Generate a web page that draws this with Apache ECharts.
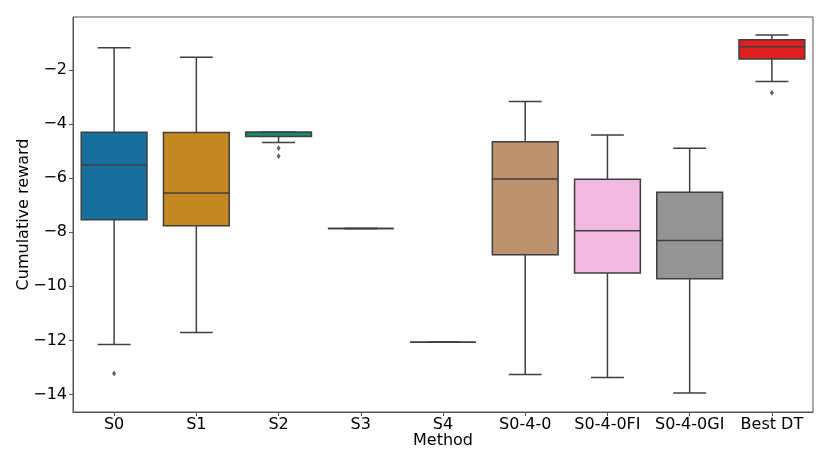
<!DOCTYPE html>
<html>
<head>
<meta charset="utf-8">
<script src="https://cdn.jsdelivr.net/npm/echarts@6/dist/echarts.min.js"></script>
<style>html,body{margin:0;padding:0;background:#fff}#c{width:830px;height:467px}</style>
</head>
<body>
<div id="c"></div>
<script>
const categories = ['S0','S1','S2','S3','S4','S0-4-0','S0-4-0FI','S0-4-0GI','Best DT'];
// [lower whisker, Q1, median, Q3, upper whisker]
const boxStats = [
  [-12.15, -7.54, -5.51, -4.30, -1.18],
  [-11.71, -7.76, -6.55, -4.31, -1.53],
  [-4.68, -4.46, -4.30, -4.30, -4.30],
  [-7.86, -7.86, -7.86, -7.86, -7.86],
  [-12.07, -12.07, -12.07, -12.07, -12.07],
  [-13.26, -8.83, -6.03, -4.65, -3.17],
  [-13.37, -9.51, -7.95, -6.04, -4.40],
  [-13.95, -9.72, -8.31, -6.52, -4.89],
  [-2.43, -1.59, -1.14, -0.88, -0.71]
];
const outliers = [[0, -13.23], [2, -4.89], [2, -5.19], [8, -2.84]];
const boxColors = ['#176d9c','#c38820','#158b6a','#c0581b','#bb78ae','#bd926e','#f1b8e0','#949494','#df2020'];
const yTicks = [-14, -12, -10, -8, -6, -4, -2];

const lineColor = '#3f3f3f';
const chart = echarts.init(document.getElementById('c'));
const font = 'DejaVu Sans';

chart.setOption({
  animation: false,
  grid: {left: 73, right: 17, top: 17, bottom: 55, show: true, borderColor: '#555', borderWidth: 1, backgroundColor: 'transparent'},
  xAxis: {
    type: 'category', data: categories, boundaryGap: true,
    name: 'Method', nameLocation: 'middle', nameGap: 21, nameMoveOverlap: false,
    nameTextStyle: {fontFamily: font, fontSize: 16, color: '#000'},
    axisLine: {show: true, lineStyle: {color: '#555', width: 1}},
    axisTick: {show: true, alignWithLabel: true, length: 4, lineStyle: {color: '#555'}},
    axisLabel: {fontFamily: font, fontSize: 16, color: '#000', margin: 5, interval: 0},
    splitLine: {show: false}
  },
  yAxis: {
    type: 'value', min: -14.65, max: -0.04,
    name: 'Cumulative reward', nameLocation: 'middle', nameGap: 41, nameMoveOverlap: false,
    nameTextStyle: {fontFamily: font, fontSize: 16, color: '#000'},
    axisLine: {show: true, lineStyle: {color: '#555', width: 1}},
    axisTick: {show: true, length: 4, customValues: yTicks, lineStyle: {color: '#555'}},
    axisLabel: {fontFamily: font, fontSize: 16, color: '#000', margin: 6, customValues: yTicks,
      formatter: v => String(v).replace('-', '\u2212')},
    splitLine: {show: false}
  },
  series: [
    {
      type: 'custom',
      data: boxStats.map((s, i) => [i].concat(s)),
      encode: {x: 0, y: [1, 2, 3, 4, 5]},
      renderItem: function (params, api) {
        const i = api.value(0);
        const band = api.size([1, 0])[0];
        const bw = band * 0.8;
        const cx = api.coord([i, 0])[0];
        const yLo = api.coord([i, api.value(1)])[1];
        const yQ1 = api.coord([i, api.value(2)])[1];
        const yMed = api.coord([i, api.value(3)])[1];
        const yQ3 = api.coord([i, api.value(4)])[1];
        const yHi = api.coord([i, api.value(5)])[1];
        const ls = {stroke: lineColor, lineWidth: 1.5, fill: null};
        const cw = bw / 4;
        return {
          type: 'group',
          children: [
            {type: 'line', shape: {x1: cx, y1: yQ1, x2: cx, y2: yLo}, style: ls},
            {type: 'line', shape: {x1: cx, y1: yQ3, x2: cx, y2: yHi}, style: ls},
            {type: 'line', shape: {x1: cx - cw, y1: yLo, x2: cx + cw, y2: yLo}, style: ls},
            {type: 'line', shape: {x1: cx - cw, y1: yHi, x2: cx + cw, y2: yHi}, style: ls},
            {type: 'rect', shape: {x: cx - bw / 2, y: yQ3, width: bw, height: yQ1 - yQ3},
              style: {fill: boxColors[i], stroke: lineColor, lineWidth: 1.5}},
            {type: 'line', shape: {x1: cx - bw / 2, y1: yMed, x2: cx + bw / 2, y2: yMed}, style: ls}
          ]
        };
      }
    },
    {
      type: 'scatter',
      data: outliers,
      symbol: 'diamond',
      symbolSize: [4, 6],
      itemStyle: {color: lineColor}
    }
  ]
});
</script>
</body>
</html>
